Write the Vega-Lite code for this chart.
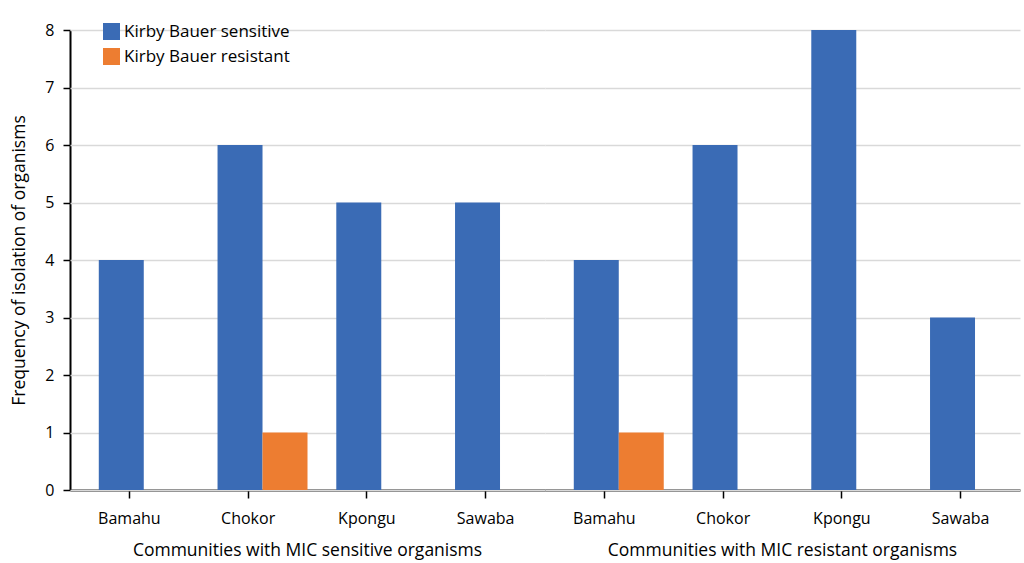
{
  "$schema": "https://vega.github.io/schema/vega-lite/v6.json",
  "padding": {"left": 10, "top": 22, "right": 4, "bottom": 0},
  "background": "white",
  "data": {
    "values": [
      {"group": "Communities with MIC sensitive organisms", "community": "Bamahu", "series": "Kirby Bauer sensitive", "value": 4},
      {"group": "Communities with MIC sensitive organisms", "community": "Bamahu", "series": "Kirby Bauer resistant", "value": 0},
      {"group": "Communities with MIC sensitive organisms", "community": "Chokor", "series": "Kirby Bauer sensitive", "value": 6},
      {"group": "Communities with MIC sensitive organisms", "community": "Chokor", "series": "Kirby Bauer resistant", "value": 1},
      {"group": "Communities with MIC sensitive organisms", "community": "Kpongu", "series": "Kirby Bauer sensitive", "value": 5},
      {"group": "Communities with MIC sensitive organisms", "community": "Kpongu", "series": "Kirby Bauer resistant", "value": 0},
      {"group": "Communities with MIC sensitive organisms", "community": "Sawaba", "series": "Kirby Bauer sensitive", "value": 5},
      {"group": "Communities with MIC sensitive organisms", "community": "Sawaba", "series": "Kirby Bauer resistant", "value": 0},
      {"group": "Communities with MIC resistant organisms", "community": "Bamahu", "series": "Kirby Bauer sensitive", "value": 4},
      {"group": "Communities with MIC resistant organisms", "community": "Bamahu", "series": "Kirby Bauer resistant", "value": 1},
      {"group": "Communities with MIC resistant organisms", "community": "Chokor", "series": "Kirby Bauer sensitive", "value": 6},
      {"group": "Communities with MIC resistant organisms", "community": "Chokor", "series": "Kirby Bauer resistant", "value": 0},
      {"group": "Communities with MIC resistant organisms", "community": "Kpongu", "series": "Kirby Bauer sensitive", "value": 8},
      {"group": "Communities with MIC resistant organisms", "community": "Kpongu", "series": "Kirby Bauer resistant", "value": 0},
      {"group": "Communities with MIC resistant organisms", "community": "Sawaba", "series": "Kirby Bauer sensitive", "value": 3},
      {"group": "Communities with MIC resistant organisms", "community": "Sawaba", "series": "Kirby Bauer resistant", "value": 0}
    ]
  },
  "facet": {
    "column": {
      "field": "group",
      "type": "nominal",
      "sort": ["Communities with MIC sensitive organisms", "Communities with MIC resistant organisms"],
      "header": {
        "title": null,
        "labelOrient": "bottom",
        "labelFont": "Open Sans",
        "labelFontSize": 17.5,
        "labelColor": "#000000",
        "labelPadding": 16
      }
    }
  },
  "spacing": 0,
  "spec": {
    "width": 475,
    "height": 460,
    "mark": {"type": "bar"},
    "encoding": {
      "x": {
        "field": "community",
        "type": "nominal",
        "sort": ["Bamahu", "Chokor", "Kpongu", "Sawaba"],
        "title": null,
        "scale": {"paddingInner": 0, "paddingOuter": 0},
        "axis": {
          "labelAngle": 0,
          "labelFont": "Open Sans",
          "labelFontSize": 16,
          "labelColor": "#000000",
          "labelPadding": 12,
          "domainColor": "#000000",
          "domainWidth": 2,
          "tickColor": "#000000",
          "tickSize": 8,
          "tickWidth": 1.5
        }
      },
      "xOffset": {
        "field": "series",
        "type": "nominal",
        "sort": ["Kirby Bauer sensitive", "Kirby Bauer resistant"],
        "scale": {"paddingInner": 0, "paddingOuter": 0.32, "align": 1}
      },
      "y": {
        "field": "value",
        "type": "quantitative",
        "title": "Frequency of isolation of organisms",
        "scale": {"domain": [0, 8]},
        "axis": {
          "values": [0, 1, 2, 3, 4, 5, 6, 7, 8],
          "labelFont": "Open Sans",
          "labelFontSize": 16,
          "labelColor": "#000000",
          "labelPadding": 9,
          "titleFont": "Open Sans",
          "titleFontSize": 17.5,
          "titleFontWeight": "normal",
          "titleColor": "#000000",
          "titlePadding": 16,
          "domainColor": "#000000",
          "domainWidth": 2,
          "tickColor": "#000000",
          "tickSize": 7,
          "tickWidth": 1.5,
          "grid": true,
          "gridColor": "#D9D9D9",
          "gridWidth": 1.5
        }
      },
      "color": {
        "field": "series",
        "type": "nominal",
        "sort": ["Kirby Bauer sensitive", "Kirby Bauer resistant"],
        "scale": {"range": ["#3A6BB5", "#ED7D31"]},
        "legend": {
          "title": null,
          "orient": "none",
          "legendX": 33,
          "legendY": -7,
          "symbolType": "square",
          "symbolSize": 289,
          "symbolStrokeWidth": 0,
          "labelFont": "Open Sans",
          "labelFontSize": 17,
          "labelLimit": 400,
          "labelColor": "#000000",
          "rowPadding": 7
        }
      }
    }
  },
  "config": {
    "view": {"stroke": null},
    "font": "Open Sans"
  }
}
